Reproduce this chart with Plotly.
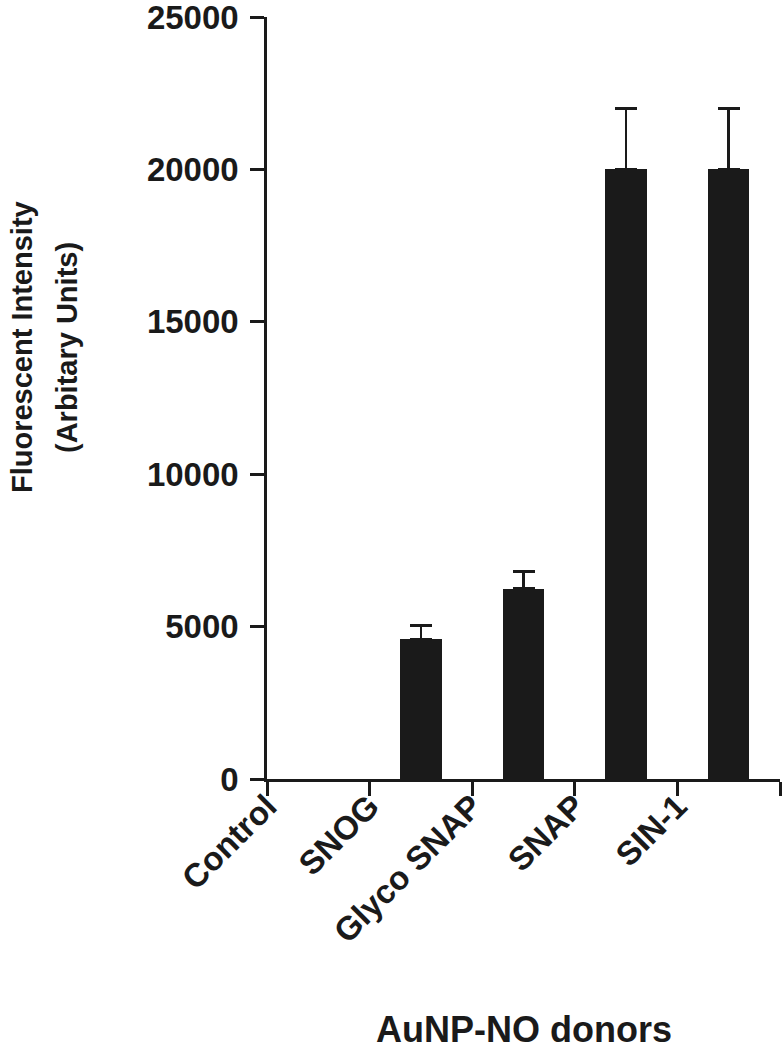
import plotly.graph_objects as go

# Data
categories = ["Control", "SNOG", "Glyco SNAP", "SNAP", "SIN-1"]
intensity = [0, 4580, 6250, 20000, 20000]
error_up = [0, 450, 550, 2000, 2000]
y_ticks = [0, 5000, 10000, 15000, 20000, 25000]
y_tick_labels = ["0", "5000", "10000", "15000", "20000", "25000"]

FONT = "Liberation Sans, Arial, Helvetica, sans-serif"
INK = "#1a1a1a"

bar_x = [i + 0.5 for i in range(len(categories))]
bar_y = [v if v > 0 else None for v in intensity]
err_plus = [e if v > 0 else None for v, e in zip(intensity, error_up)]
err_minus = [0 if v > 0 else None for v in intensity]

fig = go.Figure()
fig.add_trace(go.Bar(
    x=bar_x,
    y=bar_y,
    width=0.405,
    marker=dict(color=INK, line=dict(width=0)),
    error_y=dict(type="data", symmetric=False, array=err_plus,
                 arrayminus=err_minus,
                 color=INK, thickness=2.5, width=11),
    showlegend=False,
))

W, H = 782, 1050
L, R, T, B = 267, 2, 17, 271
PLOT_W = W - L - R
PLOT_H = H - T - B

fig.update_layout(
    width=W, height=H,
    margin=dict(l=L, r=R, t=T, b=B, autoexpand=False),
    paper_bgcolor="white", plot_bgcolor="white",
    font=dict(family=FONT, color=INK, size=33, weight="bold"),
    bargap=0,
)

fig.update_xaxes(
    range=[0, len(categories)],
    tickmode="array",
    tickvals=list(range(len(categories) + 1)),
    ticktext=categories + [""],
    tickangle=-45,
    ticks="outside", ticklen=14, tickwidth=2.5, tickcolor=INK,
    showline=True, linewidth=2.5, linecolor=INK,
    showgrid=False, zeroline=False,
    automargin=False,
    ticklabelstandoff=-22,
    tickfont=dict(family=FONT, size=33, color=INK, weight="bold"),
)

fig.update_yaxes(
    range=[0, 25000],
    tickmode="array",
    tickvals=y_ticks,
    ticktext=y_tick_labels,
    ticks="outside", ticklen=14, tickwidth=2.5, tickcolor=INK,
    showline=True, linewidth=2.5, linecolor=INK,
    showgrid=False, zeroline=False,
    automargin=False,
    ticklabelstandoff=5,
    ticklabeloverflow="allow",
    tickfont=dict(family=FONT, size=33, color=INK, weight="bold"),
)

y0 = H - B  # pixel row of value 0

# Y axis title (two lines, as separate annotations for spacing)
fig.add_annotation(text="Fluorescent Intensity", xref="paper", yref="paper",
                   x=(22 - L) / PLOT_W, y=(y0 - 347) / PLOT_H,
                   xanchor="center", yanchor="middle", textangle=-90,
                   showarrow=False,
                   font=dict(family=FONT, size=29, color=INK, weight="bold"))
fig.add_annotation(text="(Arbitary Units)", xref="paper", yref="paper",
                   x=(67 - L) / PLOT_W, y=(y0 - 348) / PLOT_H,
                   xanchor="center", yanchor="middle", textangle=-90,
                   showarrow=False,
                   font=dict(family=FONT, size=29, color=INK, weight="bold"))

# X axis title
fig.add_annotation(text="AuNP-NO donors", xref="paper", yref="paper",
                   x=0.5, y=(y0 - 1029) / PLOT_H,
                   xanchor="center", yanchor="middle", showarrow=False,
                   font=dict(family=FONT, size=36, color=INK, weight="bold"))

fig.write_html("out.html", config={"displayModeBar": False},
               post_script="document.body.style.margin='0';")
